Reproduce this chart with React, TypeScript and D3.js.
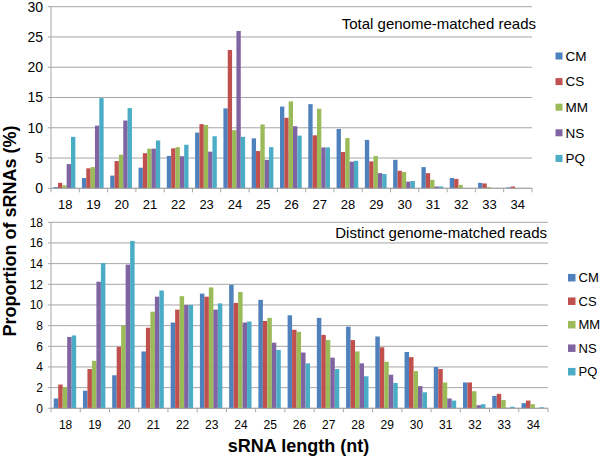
import React from "react";
import * as d3 from "d3";

const lengths = ["18","19","20","21","22","23","24","25","26","27","28","29","30","31","32","33","34"];
const seriesNames = ["CM", "CS", "MM", "NS", "PQ"];
const seriesColors = ["#4F81BD", "#C0504D", "#9BBB59", "#8064A2", "#4BACC6"];

// Total genome-matched reads (%)
const totalCM = [0.2, 1.7, 2.1, 3.4, 5.35, 9.2, 13.2, 8.25, 13.5, 13.9, 9.8, 8.0, 4.7, 3.5, 1.7, 0.9, 0.15];
const totalCS = [0.9, 3.3, 4.5, 5.8, 6.6, 10.6, 22.85, 6.15, 11.65, 8.75, 6.0, 4.45, 2.9, 2.5, 1.55, 0.8, 0.3];
const totalMM = [0.5, 3.5, 5.55, 6.55, 6.8, 10.45, 9.6, 10.55, 14.35, 13.15, 8.3, 5.35, 2.7, 1.4, 0.55, 0.2, 0.05];
const totalNS = [4.0, 10.35, 11.2, 6.55, 5.3, 6.05, 26.0, 4.7, 10.25, 6.75, 4.4, 2.5, 1.1, 0.3, 0.05, 0.02, 0.0];
const totalPQ = [8.5, 14.9, 13.25, 7.9, 7.2, 8.6, 8.5, 6.8, 8.7, 6.75, 4.55, 2.35, 1.2, 0.3, 0.05, 0.02, 0.0];

// Distinct genome-matched reads (%)
const distinctCM = [0.95, 1.7, 3.2, 5.5, 8.3, 11.1, 11.95, 10.5, 9.0, 8.75, 7.9, 6.95, 5.45, 4.0, 2.5, 1.2, 0.5];
const distinctCS = [2.3, 3.8, 5.95, 7.8, 9.55, 10.8, 10.2, 8.45, 7.6, 7.1, 6.6, 5.9, 4.95, 3.8, 2.5, 1.4, 0.75];
const distinctMM = [2.05, 4.6, 8.0, 9.35, 10.85, 11.7, 11.25, 8.75, 7.4, 6.6, 5.5, 4.5, 3.6, 2.5, 1.65, 0.8, 0.4];
const distinctNS = [6.9, 12.25, 13.9, 10.8, 10.0, 9.55, 8.3, 6.35, 5.4, 4.9, 4.35, 3.25, 2.15, 0.95, 0.3, 0.05, 0.0];
const distinctPQ = [7.05, 14.05, 16.2, 11.4, 10.0, 10.15, 8.4, 5.65, 4.35, 3.8, 3.1, 2.45, 1.55, 0.75, 0.4, 0.15, 0.1];

const totalTicks = [0, 5, 10, 15, 20, 25, 30];
const distinctTicks = [0, 2, 4, 6, 8, 10, 12, 14, 16, 18];

const FONT = "'Liberation Sans', Arial, Helvetica, sans-serif";

type PanelProps = {
  series: number[][];
  ticks: number[];
  yMax: number;
  left: number;
  right: number;
  top: number;
  bottom: number;
  title: string;
  titleX: number;
  titleY: number;
  legendX: number;
  legendY0: number;
  legendStep: number;
  legendSize: number;
  tickFont: number;
  xTickFont: number;
  legendFont: number;
};

function Panel(p: PanelProps) {
  const x = d3.scaleBand<string>().domain(lengths).range([p.left, p.right]).paddingInner(0).paddingOuter(0);
  const inner = d3.scaleBand<string>().domain(seriesNames).range([0, x.bandwidth()]).paddingInner(0).paddingOuter(0.76).align(0.4);
  const y = d3.scaleLinear().domain([0, p.yMax]).range([p.bottom, p.top]);
  const grid = "#A6A6A6";
  return (
    <g>
      {p.ticks.map((t) => (
        <g key={"g" + t}>
          <line x1={p.left - 3} x2={p.right} y1={y(t)} y2={y(t)} stroke={grid} strokeWidth={1} />
          <text x={p.left - 8} y={y(t)} dy="0.35em" textAnchor="end" fontSize={p.tickFont} fontFamily={FONT} fill="#000">{t}</text>
        </g>
      ))}
      <line x1={p.left} x2={p.left} y1={p.top} y2={p.bottom} stroke={grid} strokeWidth={1} />
      {renderSeries(p, x, inner, y)}
      <line x1={p.left} x2={p.right} y1={p.bottom} y2={p.bottom} stroke={grid} strokeWidth={1} />
      {lengths.map((c) => (
        <line key={"t" + c} x1={x(c)!} x2={x(c)!} y1={p.bottom} y2={p.bottom + 4} stroke={grid} />
      ))}
      <line x1={p.right} x2={p.right} y1={p.bottom} y2={p.bottom + 4} stroke={grid} />
      {lengths.map((c) => (
        <text key={"l" + c} x={x(c)! + x.bandwidth() / 2} y={p.bottom + 16} dy="0.35em" textAnchor="middle" fontSize={p.xTickFont} fontFamily={FONT} fill="#000">{c}</text>
      ))}
      <text x={p.titleX} y={p.titleY} textAnchor="end" fontSize={15} fontFamily={FONT} fill="#000">{p.title}</text>
      {seriesNames.map((n, i) => (
        <g key={"lg" + n}>
          <rect x={p.legendX} y={p.legendY0 + i * p.legendStep - p.legendSize / 2} width={p.legendSize} height={p.legendSize} fill={seriesColors[i]} />
          <text x={p.legendX + p.legendSize + 3} y={p.legendY0 + i * p.legendStep} dy="0.35em" fontSize={p.legendFont} fontFamily={FONT} fill="#000">{n}</text>
        </g>
      ))}
    </g>
  );
}

function renderSeries(p: PanelProps, x: any, inner: any, y: any) {
  return p.series.map((vals, si) =>
    vals.map((v, ci) => (
      <rect
        key={si + "-" + ci}
        x={x(lengths[ci]) + inner(seriesNames[si])}
        y={y(v)}
        width={inner.bandwidth()}
        height={Math.max(0, y(0) - y(v))}
        fill={seriesColors[si]}
      />
    ))
  );
}

export default function App() {
  return (
    <svg width={600} height={457} style={{ position: "absolute", left: 0, top: 0, background: "#fff" }}>
      <rect width={600} height={457} fill="#fff" />
      <Panel
        series={[totalCM, totalCS, totalMM, totalNS, totalPQ]}
        ticks={totalTicks}
        yMax={30}
        left={51}
        right={532}
        top={6.7}
        bottom={188.3}
        title="Total genome-matched reads"
        titleX={536}
        titleY={29}
        legendX={555.5}
        legendY0={56}
        legendStep={25.6}
        legendSize={7}
        tickFont={14}
        xTickFont={13}
        legendFont={13.5}
      />
      <Panel
        series={[distinctCM, distinctCS, distinctMM, distinctNS, distinctPQ]}
        ticks={distinctTicks}
        yMax={18}
        left={51}
        right={548}
        top={222.3}
        bottom={408.3}
        title="Distinct genome-matched reads"
        titleX={547}
        titleY={238}
        legendX={568}
        legendY0={277.7}
        legendStep={23.5}
        legendSize={7.5}
        tickFont={12}
        xTickFont={12}
        legendFont={13}
      />
      <text transform="translate(16,231) rotate(-90)" textAnchor="middle" fontSize={18} fontWeight="bold" fontFamily={FONT} fill="#000">Proportion of sRNAs (%)</text>
      <text x={298.5} y={452} textAnchor="middle" fontSize={18} fontWeight="bold" fontFamily={FONT} fill="#000">sRNA length (nt)</text>
    </svg>
  );
}
